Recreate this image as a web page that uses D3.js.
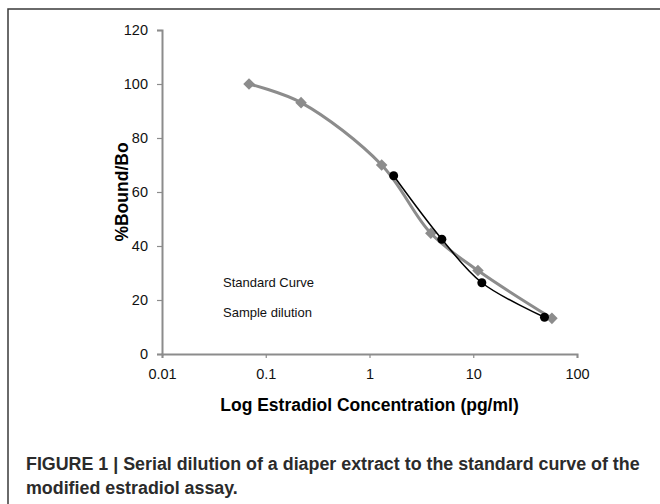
<!DOCTYPE html>
<html><head><meta charset="utf-8">
<script src="https://cdn.jsdelivr.net/npm/d3@7"></script>
<style>body{margin:0;background:#fff}svg{display:block}</style>
</head><body>
<svg id="c" width="660" height="504"></svg>
<script>
const stdConc = [0.069, 0.219, 1.31, 3.9, 11.1, 57.3];
const stdBound = [100, 93.1, 70.0, 44.7, 30.9, 13.2];
const smpConc = [1.71, 4.98, 12.1, 48.6];
const smpBound = [66.0, 42.5, 26.4, 13.6];
const xTicks = [0.01, 0.1, 1, 10, 100];
const yTicks = [0, 20, 40, 60, 80, 100, 120];
const seriesNames = ["Standard Curve", "Sample dilution"];
const captionLines = ["FIGURE 1 | Serial dilution of a diaper extract to the standard curve of the", "modified estradiol assay."];

const svg = d3.select("#c");
// frame
svg.append("rect").attr("x",8).attr("y",9).attr("width",700).attr("height",600)
  .attr("fill","none").attr("stroke","#3a3a3a").attr("stroke-width",1.5);

const x = d3.scaleLog().domain([0.01,100]).range([162,577]);
const y = d3.scaleLinear().domain([0,120]).range([354,30]);
const font = "Liberation Sans, Arial, sans-serif";

const yAxis = svg.append("g").attr("transform","translate(162,0)")
  .call(d3.axisLeft(y).tickValues(yTicks).tickSize(5).tickPadding(9).tickFormat(d3.format("d")));
const xAxis = svg.append("g").attr("transform","translate(0,354)")
  .call(d3.axisBottom(x).tickValues(xTicks).tickSize(4).tickPadding(11).tickFormat(d=>String(d)));
[yAxis,xAxis].forEach(g=>{
  g.select(".domain").attr("stroke","#8c8c8c").attr("stroke-width",2);
  g.selectAll(".tick line").attr("stroke","#8c8c8c").attr("stroke-width",1.2);
  g.selectAll(".tick text").attr("fill","#111").style("font-family",font).style("font-size","14.5px");
});

const line = d3.line().x(d=>x(d[0])).y(d=>y(d[1])).curve(d3.curveCatmullRom.alpha(0.5));
const std = stdConc.map((c,i)=>[c,stdBound[i]]);
const smp = smpConc.map((c,i)=>[c,smpBound[i]]);

svg.append("path").datum(std).attr("d",line).attr("fill","none")
  .attr("stroke","#8c8c8c").attr("stroke-width",3);
svg.selectAll(".dia").data(std).enter().append("path")
  .attr("d", d3.symbol().type(d3.symbolDiamond2).size(85))
  .attr("transform", d=>`translate(${x(d[0])},${y(d[1])})`)
  .attr("fill","#8c8c8c");

svg.append("path").datum(smp).attr("d",line).attr("fill","none")
  .attr("stroke","#000").attr("stroke-width",1.5);
svg.selectAll(".dot").data(smp).enter().append("circle")
  .attr("cx",d=>x(d[0])).attr("cy",d=>y(d[1])).attr("r",4.5).attr("fill","#000");

// legend (text only)
svg.selectAll(".leg").data(seriesNames).enter().append("text")
  .attr("x",223).attr("y",(d,i)=>287+i*30).text(d=>d)
  .style("font-family",font).style("font-size","13px").attr("fill","#111");

// axis titles
svg.append("text").attr("x",369.5).attr("y",411).attr("text-anchor","middle")
  .text("Log Estradiol Concentration (pg/ml)")
  .style("font-family",font).style("font-size","17.5px").style("font-weight","bold").attr("fill","#000");
svg.append("text").attr("transform","translate(128,192) rotate(-90)").attr("text-anchor","middle")
  .text("%Bound/Bo")
  .style("font-family",font).style("font-size","17.5px").style("font-weight","bold").attr("fill","#000");

// caption: condensed look via horizontal scale
const cap = svg.append("g");
const capTexts = cap.selectAll("text").data(captionLines).enter().append("text")
  .attr("x",0).attr("y",(d,i)=>i*24).text(d=>d)
  .style("font-family",font).style("font-size","19px").style("font-weight","bold").attr("fill","#2b2b2b");
const w = capTexts.nodes()[0].getComputedTextLength();
const s = 614/w;
cap.attr("transform",`translate(26,470) scale(${s},1)`);
</script>
</body></html>
